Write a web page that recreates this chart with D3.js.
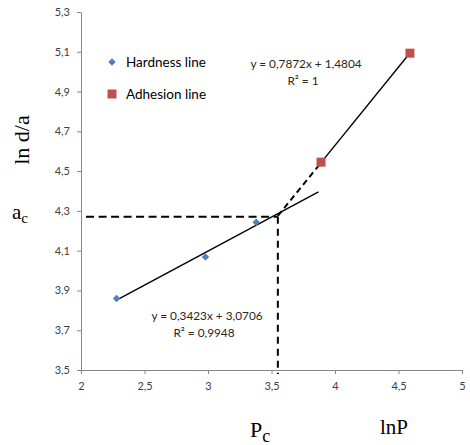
<!DOCTYPE html>
<html>
<head>
<meta charset="utf-8">
<script src="https://cdn.jsdelivr.net/npm/d3@7"></script>
<style>
  html, body { margin: 0; padding: 0; background: #fff; }
  svg { display: block; }
</style>
</head>
<body>
<script>
// ---- data ----
const hardnessX = [2.28, 2.98, 3.38];
const hardnessY = [3.86, 4.068, 4.243];
const adhesionX = [3.89, 4.59];
const adhesionY = [4.545, 5.093];
const hardnessFit = { slope: 0.3423, intercept: 3.0706, x0: 2.28, x1: 3.87 };
const adhesionFit = { slope: 0.7872, intercept: 1.4804, x0: 3.55, x1: 4.59, solidFrom: 3.89 };
const criticalP = 3.55;
const criticalA = 4.27;
const xTicks = [2, 2.5, 3, 3.5, 4, 4.5, 5];
const yTicks = [3.5, 3.7, 3.9, 4.1, 4.3, 4.5, 4.7, 4.9, 5.1, 5.3];
const seriesNames = ["Hardness line", "Adhesion line"];
const eqTexts = [["y = 0,7872x + 1,4804", "R² = 1"], ["y = 0,3423x + 3,0706", "R² = 0,9948"]];

const W = 470, H = 445;
const svg = d3.select("body").append("svg").attr("width", W).attr("height", H);

const x = d3.scaleLinear().domain([2, 5]).range([81, 462]);
const y = d3.scaleLinear().domain([3.5, 5.3]).range([370, 12]);
const fmt = d => d3.format(".1f")(d).replace(".", ",").replace(/,0$/, "");
const font = "Lato, 'Open Sans', sans-serif";

// axes
const xAxis = svg.append("g").attr("transform", "translate(0,370)")
  .call(d3.axisBottom(x).tickValues(xTicks).tickSize(4).tickSizeOuter(0).tickFormat(fmt));
const yAxis = svg.append("g").attr("transform", "translate(81,0)")
  .call(d3.axisLeft(y).tickValues(yTicks).tickSize(4).tickSizeOuter(0).tickFormat(fmt));
[xAxis, yAxis].forEach(a => {
  a.select(".domain").attr("stroke", "#868686");
  a.selectAll(".tick line").attr("stroke", "#868686");
  a.selectAll(".tick text").attr("fill", "#404040").style("font-family", font).style("font-size", "11px");
});
xAxis.selectAll(".tick text").attr("y", 12);
yAxis.selectAll(".tick text").attr("x", -11);

// dashed critical lines
svg.append("line")
  .attr("x1", x(2.04)).attr("x2", x(criticalP))
  .attr("y1", y(criticalA)).attr("y2", y(criticalA))
  .attr("stroke", "#000").attr("stroke-width", 2).attr("stroke-dasharray", "8,4.5");
svg.append("line")
  .attr("x1", x(criticalP)).attr("x2", x(criticalP))
  .attr("y1", y(criticalA)).attr("y2", y(3.5) + 4)
  .attr("stroke", "#000").attr("stroke-width", 2).attr("stroke-dasharray", "7,5");

// trend lines
const f = (fit, v) => fit.slope * v + fit.intercept;
svg.append("line")
  .attr("x1", x(hardnessFit.x0)).attr("y1", y(f(hardnessFit, hardnessFit.x0)))
  .attr("x2", x(hardnessFit.x1)).attr("y2", y(f(hardnessFit, hardnessFit.x1)))
  .attr("stroke", "#000").attr("stroke-width", 1.4);
svg.append("line")
  .attr("x1", x(adhesionFit.x0)).attr("y1", y(f(adhesionFit, adhesionFit.x0)))
  .attr("x2", x(adhesionFit.solidFrom)).attr("y2", y(f(adhesionFit, adhesionFit.solidFrom)))
  .attr("stroke", "#000").attr("stroke-width", 2).attr("stroke-dasharray", "6,4");
svg.append("line")
  .attr("x1", x(adhesionFit.solidFrom)).attr("y1", y(f(adhesionFit, adhesionFit.solidFrom)))
  .attr("x2", x(adhesionFit.x1)).attr("y2", y(f(adhesionFit, adhesionFit.x1)))
  .attr("stroke", "#000").attr("stroke-width", 1.4);

// markers
const diamond = d3.symbol().type(d3.symbolDiamond2).size(36);
svg.selectAll(".hp").data(hardnessX).join("path")
  .attr("transform", (d, i) => `translate(${x(d)},${y(hardnessY[i])})`)
  .attr("d", diamond).attr("fill", "#4F81BD");
svg.selectAll(".ap").data(adhesionX).join("rect")
  .attr("x", d => x(d) - 4.5).attr("y", (d, i) => y(adhesionY[i]) - 4.5)
  .attr("width", 9).attr("height", 9).attr("fill", "#C0504D");

// legend
const lg = svg.append("g").attr("transform", "translate(112,62)");
lg.append("path").attr("d", diamond).attr("fill", "#4F81BD");
lg.append("rect").attr("x", -4.5).attr("y", 32 - 4.5).attr("width", 9).attr("height", 9).attr("fill", "#C0504D");
lg.selectAll("text").data(seriesNames).join("text")
  .attr("x", 14).attr("y", (d, i) => i * 32 + 5)
  .style("font-family", font).style("font-size", "13.5px").attr("fill", "#000").text(d => d);

// equations
[[306, 68], [207, 320]].forEach((p, i) => {
  svg.append("text").attr("x", p[0]).attr("y", p[1]).attr("text-anchor", "middle")
    .style("font-family", font).style("font-size", "11.8px").attr("fill", "#262626").text(eqTexts[i][0]);
  svg.append("text").attr("x", p[0] - 3).attr("y", p[1] + 17).attr("text-anchor", "middle")
    .style("font-family", font).style("font-size", "11.8px").attr("fill", "#262626").text(eqTexts[i][1]);
});

// labels (serif)
const serif = "'Liberation Serif', 'Times New Roman', serif";
svg.append("text").attr("transform", "translate(29,140) rotate(-90)").attr("text-anchor", "middle")
  .style("font-family", serif).style("font-size", "22px").text("ln d/a");
const ac = svg.append("text").attr("x", 12).attr("y", 219).style("font-family", serif).style("font-size", "21px");
ac.append("tspan").text("a");
ac.append("tspan").attr("dy", 4).style("font-size", "15px").text("c");
const pc = svg.append("text").attr("x", 250).attr("y", 437).style("font-family", serif).style("font-size", "22px");
pc.append("tspan").text("P");
pc.append("tspan").attr("dy", 5).style("font-size", "18px").text("c");
svg.append("text").attr("x", 380).attr("y", 434).style("font-family", serif).style("font-size", "21px").text("lnP");
</script>
</body>
</html>
